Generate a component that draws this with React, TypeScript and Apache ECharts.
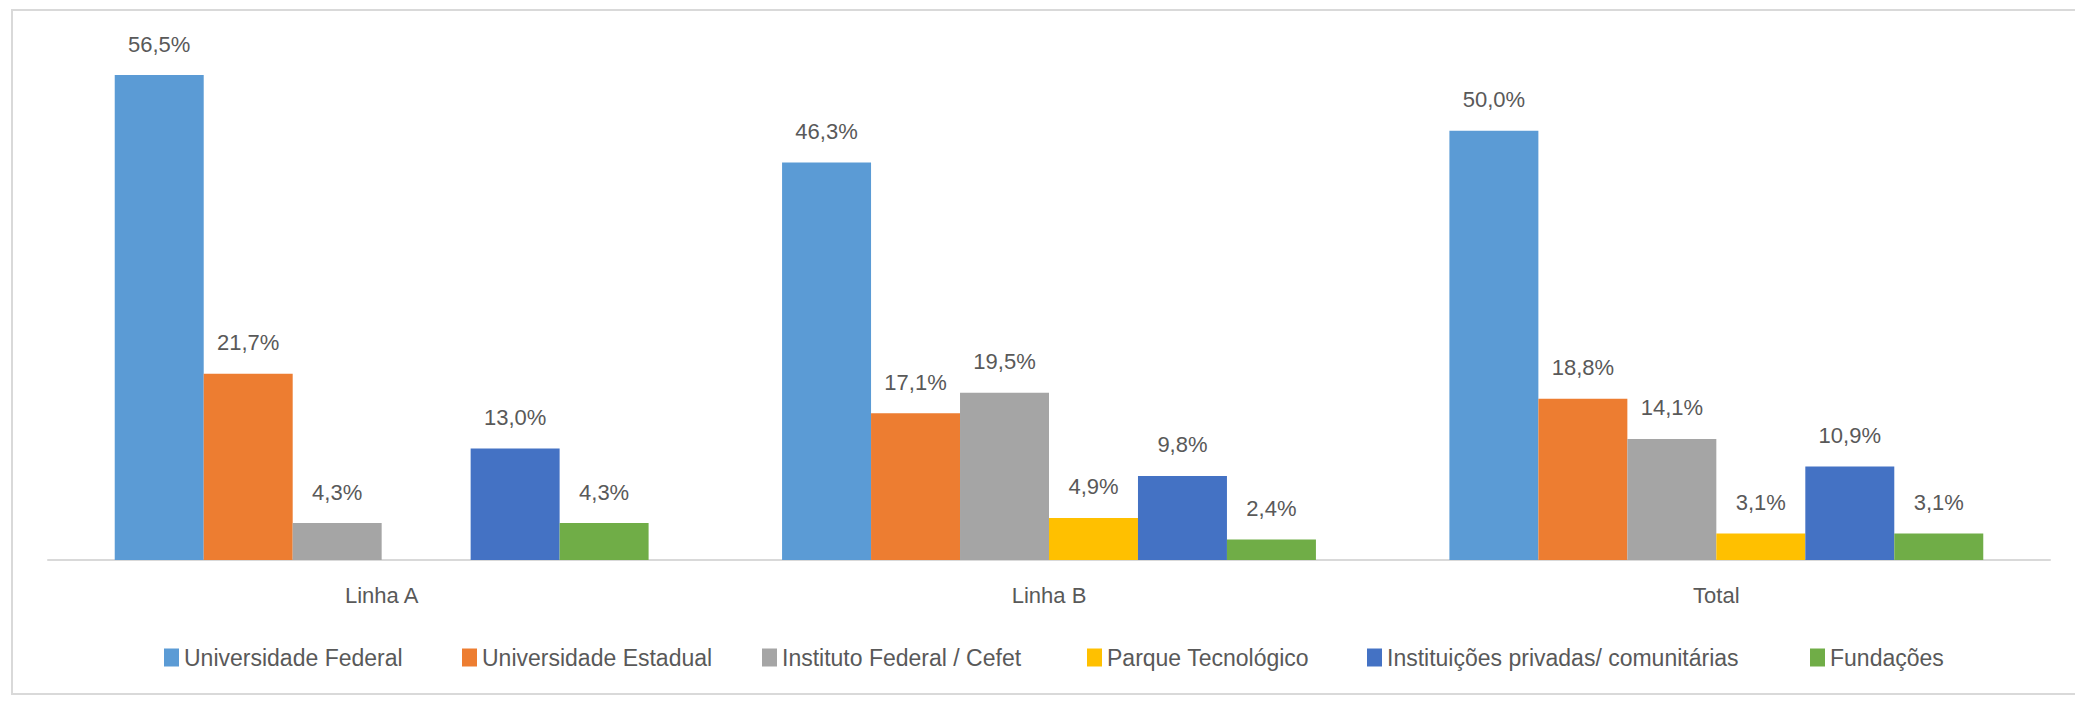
import React, { useEffect, useRef } from "react";
import * as echarts from "echarts";

const categories = ["Linha A", "Linha B", "Total"];
const seriesNames = [
  "Universidade Federal",
  "Universidade Estadual",
  "Instituto Federal / Cefet",
  "Parque Tecnológico",
  "Instituições privadas/ comunitárias",
  "Fundações",
];
const universidadeFederal = [56.5, 46.3, 50.0];
const universidadeEstadual = [21.7, 17.1, 18.8];
const institutoFederal = [4.3, 19.5, 14.1];
const parqueTecnologico: (number | null)[] = [null, 4.9, 3.1];
const instituicoesPrivadas = [13.0, 9.8, 10.9];
const fundacoes = [4.3, 2.4, 3.1];
const colors = ["#5B9BD5", "#ED7D31", "#A5A5A5", "#FFC000", "#4472C4", "#70AD47"];

// legend item left edges (layout)
const legendLeft = [164, 462, 762, 1087, 1367, 1810];

const FONT = "'Liberation Sans', Arial, sans-serif";

export default function App() {
  const ref = useRef<HTMLDivElement>(null);
  useEffect(() => {
    if (!ref.current) return;
    const chart = echarts.init(ref.current, null, { renderer: "svg" });
    const values = [
      universidadeFederal,
      universidadeEstadual,
      institutoFederal,
      parqueTecnologico,
      instituicoesPrivadas,
      fundacoes,
    ];
    chart.setOption({
      animation: false,
      backgroundColor: "#ffffff",
      textStyle: { fontFamily: FONT },
      graphic: [
        {
          type: "rect",
          shape: { x: 12, y: 10, width: 2100, height: 684 },
          style: { fill: "none", stroke: "#D9D9D9", lineWidth: 2 },
          silent: true,
        },
      ],
      grid: { left: 48, right: 25, top: 45, bottom: 141, containLabel: false },
      legend: seriesNames.map((name, i) => ({
        left: legendLeft[i],
        top: 646,
        icon: "rect",
        itemWidth: 15,
        itemHeight: 18,
        padding: 0,
        textStyle: { color: "#595959", fontSize: 23, fontFamily: FONT },
        data: [name],
      })),
      xAxis: {
        type: "category",
        data: categories,
        axisTick: { show: false },
        axisLine: { lineStyle: { color: "#D9D9D9", width: 2 } },
        axisLabel: { color: "#595959", fontSize: 22, margin: 24, fontFamily: FONT },
      },
      yAxis: {
        type: "value",
        min: 0,
        max: 60,
        show: false,
        splitLine: { show: false },
      },
      series: seriesNames.map((name, i) => ({
        name,
        type: "bar",
        data: values[i],
        barGap: "0%",
        barCategoryGap: "20%",
        itemStyle: { color: colors[i] },
        label: {
          show: true,
          position: "top",
          distance: 20,
          color: "#595959",
          fontSize: 22,
          fontFamily: FONT,
          formatter: (p: any) =>
            p.value == null ? "" : Number(p.value).toFixed(1).replace(".", ",") + "%",
        },
      })),
    });
    return () => chart.dispose();
  }, []);
  return (
    <div
      ref={ref}
      style={{ position: "fixed", left: 0, top: 0, width: 2075, height: 701 }}
    />
  );
}
